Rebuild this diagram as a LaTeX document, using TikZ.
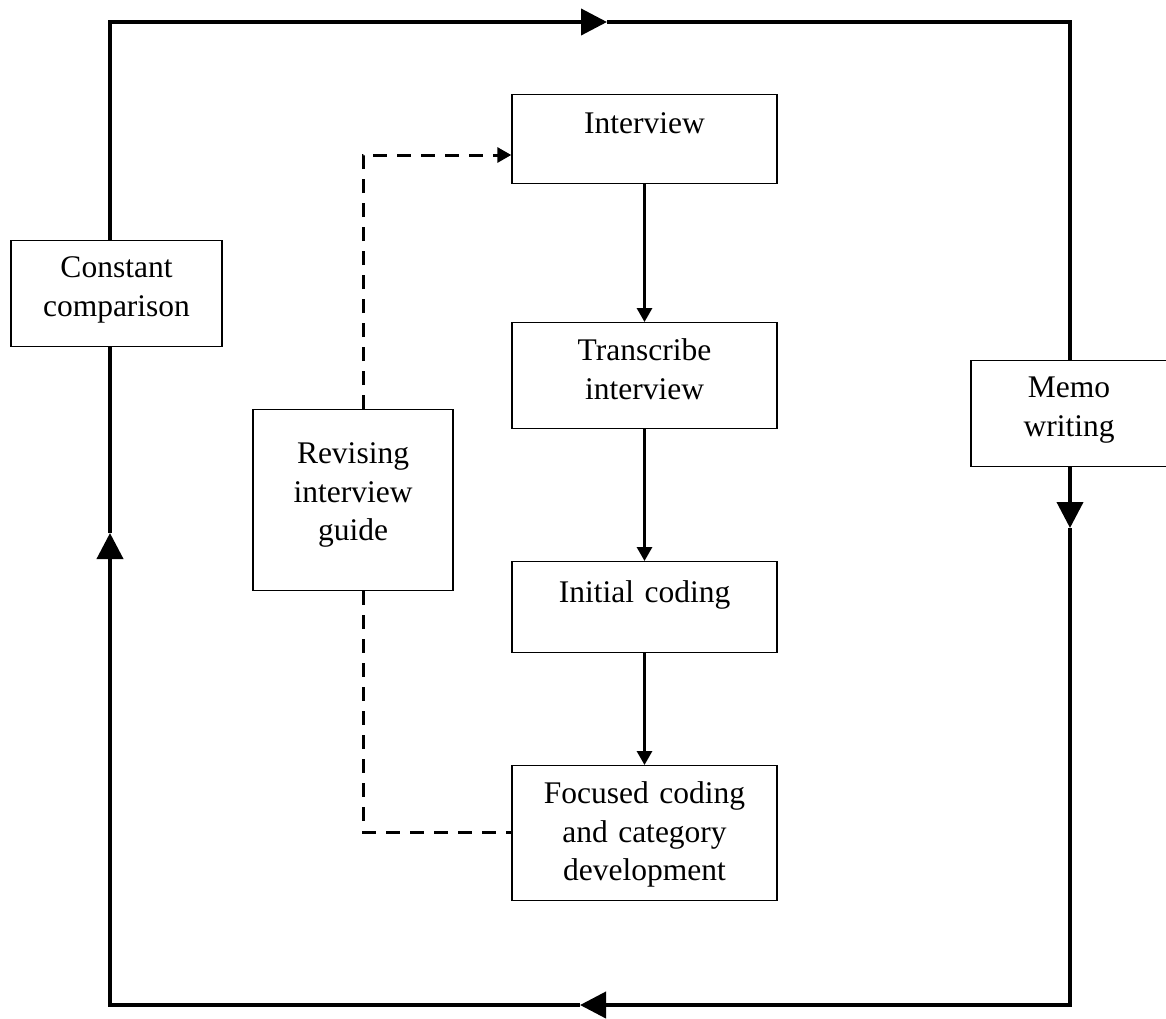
\documentclass[tikz,border=0pt]{standalone}
\usepackage{fontspec}
\setmainfont{Liberation Serif}
\usetikzlibrary{arrows.meta}

\begin{document}
\begin{tikzpicture}[x=1pt,y=-1pt,line join=miter,
    box/.style={draw,line width=1.4pt,inner sep=0pt,align=center,anchor=north,font=\fontsize{31.5}{38.5}\selectfont},
    flow/.style={line width=3pt,-{Triangle[length=14pt,width=15pt]}},
    loopline/.style={line width=4pt},
    looptip/.style={loopline,-{Triangle[length=26pt,width=26pt]}},
    guide/.style={line width=3pt,dash pattern=on 14pt off 10pt}]
  \useasboundingbox (0,0) rectangle (1166,1018);
  % main column
  \node[box,text width=265pt,text height=39pt,text depth=50pt] (interview) at (644.5,94) {Interview};
  \node[box,text width=265pt,text height=38pt,text depth=68pt] (transcribe) at (644.5,322) {Transcribe\\interview};
  \node[box,text width=265pt,text height=41pt,text depth=50pt] (initial) at (644.5,561) {Initial coding};
  \node[box,text width=265pt,text height=38pt,text depth=97pt] (focused) at (644.5,765) {Focused coding\\and category\\development};
  % side boxes
  \node[box,text width=200pt,text height=54pt,text depth=127pt] (revising) at (353,409) {Revising\\interview\\guide};
  \node[box,text width=211pt,text height=37pt,text depth=69pt] (constant) at (116.5,240) {Constant\\comparison};
  \node[box,text width=196pt,text height=37pt,text depth=69pt] (memo) at (1069,360) {Memo\\writing};
  % corners of the loop and arrow tips
  \coordinate (tl) at (110,22);
  \coordinate (tr) at (1070,22);
  \coordinate (br) at (1070,1005);
  \coordinate (bl) at (110,1005);
  \coordinate (toptip) at (607,22);
  \coordinate (righttip) at (1070,528);
  \coordinate (bottomtip) at (580,1005);
  \coordinate (lefttip) at (110,533);
  \coordinate (g1) at (363,155);
  \coordinate (g2) at (363,832);

  \draw[flow] (interview.south) -- (transcribe.north);
  \draw[flow] (transcribe.south) -- (initial.north);
  \draw[flow] (initial.south) -- (focused.north);

  \draw[guide,-{Triangle[length=14pt,width=15pt]}] (revising.north -| g1) -- (g1) -- (g1 -| interview.west);
  \draw[guide] (revising.south -| g2) -- (g2) -- (g2 -| focused.west);

  \draw[looptip] (tl |- constant.north) -- (tl) -- (toptip);
  \draw[loopline] (toptip) -- (tr) -- (tr |- memo.north);
  \draw[looptip] (tr |- memo.south) -- (righttip);
  \draw[looptip] (righttip) -- (br) -- (bottomtip);
  \draw[looptip] (bottomtip) -- (bl) -- (lefttip);
  \draw[loopline] (lefttip) -- (bl |- constant.south);
\end{tikzpicture}
\end{document}
